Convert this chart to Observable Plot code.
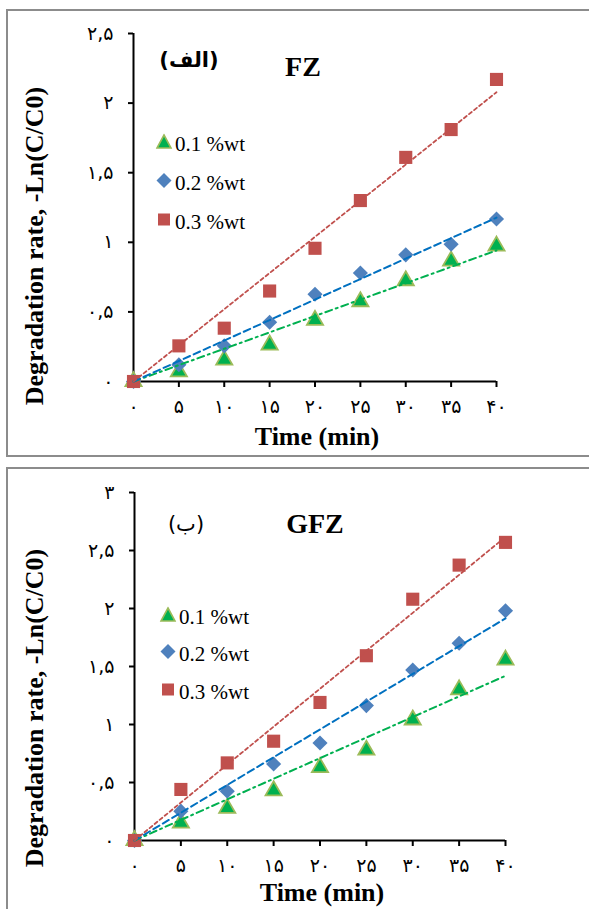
<!DOCTYPE html>
<html><head><meta charset="utf-8">
<script src="https://cdn.jsdelivr.net/npm/d3@7"></script>
<script src="https://cdn.jsdelivr.net/npm/@observablehq/plot@0.6"></script>
<style>
html,body{margin:0;padding:0;background:#fff;}
body{width:589px;height:909px;overflow:hidden;position:relative;font-family:"Liberation Serif","Times New Roman",serif;color:#000;}
.box{position:absolute;border:2px solid #8c8c8c;box-sizing:border-box;}
.abs{position:absolute;white-space:nowrap;line-height:1;}
.c{transform:translate(-50%,-50%);}
.l{transform:translate(0,-50%);}
.ttl{font-weight:bold;font-size:26px;}
.big{font-weight:bold;font-size:28px;}
.leg{font-size:21px;}
.ar{font-family:"DejaVu Sans",sans-serif;font-size:21px;}
.yt{transform:translate(-50%,-50%) rotate(-90deg);}
.plot{position:absolute;left:0;}
</style></head>
<body>
<div class="box" style="left:6px;top:9px;width:620px;height:448px;"></div>
<div class="box" style="left:6px;top:467px;width:620px;height:460px;"></div>
<div id="p1" class="plot" style="top:0"></div>
<div id="p2" class="plot" style="top:462px"></div>
<div id="overlay"></div>
<script>
// ---- data ----
const time = [0, 5, 10, 15, 20, 25, 30, 35, 40];
const fz01 = [0, 0.07, 0.155, 0.263, 0.44, 0.574, 0.725, 0.866, 0.974];
const fz02 = [0, 0.12, 0.256, 0.426, 0.627, 0.78, 0.91, 0.986, 1.167];
const fz03 = [0, 0.256, 0.383, 0.65, 0.957, 1.30, 1.61, 1.81, 2.17];
const gfz01 = [0, 0.152, 0.278, 0.43, 0.63, 0.78, 1.04, 1.30, 1.556];
const gfz02 = [0, 0.253, 0.425, 0.66, 0.841, 1.163, 1.47, 1.70, 1.98];
const gfz03 = [0, 0.44, 0.669, 0.856, 1.19, 1.593, 2.08, 2.374, 2.57];
const yTicks1 = [0, 0.5, 1, 1.5, 2, 2.5];
const yTicks2 = [0, 0.5, 1, 1.5, 2, 2.5, 3];
const seriesNames = ["0.1 %wt", "0.2 %wt", "0.3 %wt"];
const yTitle = "Degradation rate, -Ln(C/C0)";
const xTitle = "Time (min)";

const faDigits = "۰۱۲۳۴۵۶۷۸۹";
const fa = d => String(d).replace(/\d/g, c => faDigits[c]).replace(".", ",");

const markerColors = ["#00B050", "#4F81BD", "#C0504D"];
const lineColors = ["#00B050", "#0070C0", "#C0504D"];
const dashes = ["7,4,2,4", "7,4", "3.5,3"];
const widths = [2, 2, 1.8];
const symbols = ["triangle", "diamond2", "square"];
const radii = [6, 6.8, 7.4];

function slope(ys) {
  return d3.sum(time, (t, i) => t * ys[i]) / d3.sum(time, t => t * t);
}

function panel(series, yTicks, cfg) {
  const marks = [
    Plot.axisY({ticks: yTicks, tickSize: 5, tickPadding: 15, tickFormat: fa, strokeWidth: 2, label: null, fontSize: 19, fontFamily: "DejaVu Sans, sans-serif"}),
    Plot.axisX({ticks: time, tickSize: 6, tickPadding: 12, tickFormat: fa, strokeWidth: 2, label: null, fontSize: 19, fontFamily: "DejaVu Sans, sans-serif"}),
    Plot.ruleX([0], {stroke: "#000", strokeWidth: 2}),
    Plot.ruleY([0], {stroke: "#000", strokeWidth: 2})
  ];
  series.forEach((ys, k) => {
    marks.push(Plot.dot(time, {
      x: d => d, y: (d, i) => ys[i], symbol: symbols[k], r: radii[k],
      fill: markerColors[k],
      stroke: k === 0 ? "#9BBB59" : "none", strokeWidth: k === 0 ? 1.8 : 0
    }));
  });
  series.forEach((ys, k) => {
    const m = slope(ys);
    marks.push(Plot.line(time, {
      x: d => d, y: d => d * m, stroke: lineColors[k], strokeWidth: widths[k],
      strokeDasharray: dashes[k]
    }));
  });
  return Plot.plot({
    width: 589, height: cfg.height,
    marginLeft: cfg.ml, marginRight: cfg.mr, marginTop: cfg.mt, marginBottom: cfg.mb,
    x: {domain: [0, 40]},
    y: {domain: [0, yTicks[yTicks.length - 1]]},
    style: {background: "transparent", color: "#000", overflow: "visible"},
    marks
  });
}

document.getElementById("p1").appendChild(
  panel([fz01, fz02, fz03], yTicks1, {height: 462, ml: 133, mr: 93, mt: 33, mb: 81}));
document.getElementById("p2").appendChild(
  panel([gfz01, gfz02, gfz03], yTicks2, {height: 447, ml: 134, mr: 84, mt: 30, mb: 69}));

// ---- overlay texts and legends ----
const ov = document.getElementById("overlay");
function add(html, cls, x, y) {
  const d = document.createElement("div");
  d.className = "abs " + cls;
  d.style.left = x + "px"; d.style.top = y + "px";
  d.innerHTML = html;
  ov.appendChild(d);
  return d;
}
const markerSvg = [
  '<svg width="17" height="16"><polygon points="8.5,1.5 15.5,14.5 1.5,14.5" fill="#00B050" stroke="#9BBB59" stroke-width="1.6"/></svg>',
  '<svg width="16" height="16"><polygon points="8,0.5 15.5,8 8,15.5 0.5,8" fill="#4F81BD"/></svg>',
  '<svg width="13" height="13"><rect x="0.5" y="0.5" width="12" height="12" fill="#C0504D"/></svg>'
];
function legend(mx, tx, rows) {
  rows.forEach((y, k) => {
    add(markerSvg[k], "c", mx, y);
    add(seriesNames[k], "l leg", tx, y + 1);
  });
}
// panel 1
add(yTitle, "ttl yt", 35, 246);
add(xTitle, "ttl c", 317, 437);
add("(الف)", "ar c", 189, 60).style.fontWeight = "bold";
add("FZ", "big c", 303, 67);
legend(164, 175, [143, 182, 221]);
// panel 2
add(yTitle, "ttl yt", 35, 708);
add(xTitle, "ttl c", 322, 893);
add("(ب)", "ar c", 186, 524);
add("GFZ", "big c", 315, 524);
legend(168, 179, [616, 653, 691]);
</script>
</body></html>
